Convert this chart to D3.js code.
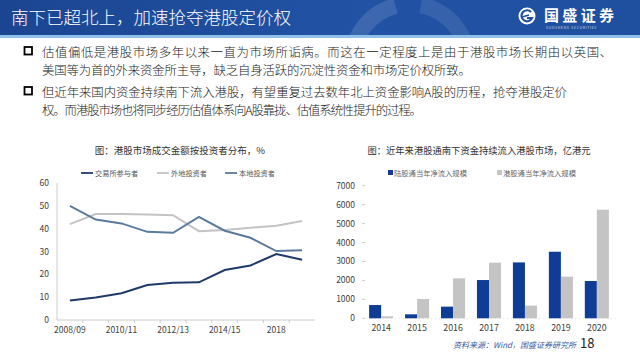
<!DOCTYPE html>
<html><head><meta charset="utf-8">
<script src="https://cdn.jsdelivr.net/npm/d3@7"></script>
<style>
html,body{margin:0;padding:0;background:#fff;}
svg{display:block;font-family:"Noto Sans CJK SC","Noto Sans",sans-serif;}
</style></head>
<body>
<svg id="c" width="640" height="360"></svg>
<script>
// ---- data ----
const periods = ["2008/09","2009/10","2010/11","2011/12","2012/13","2013/14","2014/15","2015/16","2018","2019"];
const exchangeParticipants = [8.5, 9.9, 11.7, 15.3, 16.3, 16.5, 21.9, 23.9, 28.9, 26.4];
const overseasInvestors    = [42.0, 46.4, 46.4, 46.2, 45.9, 38.9, 39.4, 40.4, 41.3, 43.4];
const localInvestors       = [50.0, 44.0, 42.3, 38.6, 38.2, 45.2, 39.1, 36.0, 30.2, 30.5];
const lineSeriesNames = ["交易所参与者", "外地投资者", "本地投资者"];
const leftTicks = [0, 10, 20, 30, 40, 50, 60];

const years = ["2014","2015","2016","2017","2018","2019","2020"];
const northbound = [700, 210, 615, 2020, 2950, 3515, 1970];
const southbound = [105, 1020, 2110, 2935, 670, 2200, 5730];
const barSeriesNames = ["陆股通当年净流入规模", "港股通当年净流入规模"];
const rightTicks = [0, 1000, 2000, 3000, 4000, 5000, 6000, 7000];

const svg = d3.select("#c");

// ---- header ----
const defs = svg.append("defs");
const g1 = defs.append("linearGradient").attr("id","hdr").attr("x1","0").attr("x2","1").attr("y1","0").attr("y2","0");
g1.append("stop").attr("offset","0").attr("stop-color","#1b4591");
g1.append("stop").attr("offset","0.55").attr("stop-color","#2152a4");
g1.append("stop").attr("offset","1").attr("stop-color","#1f4f9f");
defs.append("clipPath").attr("id","hclip").append("rect").attr("x",0).attr("y",0).attr("width",640).attr("height",36);
svg.append("rect").attr("x",0).attr("y",0).attr("width",640).attr("height",36).attr("fill","url(#hdr)");
const hg = svg.append("g").attr("clip-path","url(#hclip)");
hg.append("path").attr("d", d3.arc()({innerRadius:50, outerRadius:66, startAngle:-Math.PI*0.92, endAngle:-Math.PI*0.08}))
  .attr("transform","translate(410,62)").attr("fill","rgba(255,255,255,0.13)");
hg.append("path").attr("d", d3.arc()({innerRadius:50, outerRadius:66, startAngle:Math.PI*0.06, endAngle:Math.PI*0.5}))
  .attr("transform","translate(410,62)").attr("fill","rgba(255,255,255,0.10)");
svg.append("rect").attr("x",0).attr("y",35).attr("width",640).attr("height",3).attr("fill","#8fc0e8");

svg.append("text").attr("x",11).attr("y",24).attr("fill","#fff").attr("font-size",17.5).attr("font-weight",300)
  .text("南下已超北上，加速抢夺港股定价权");

// logo
const lg = svg.append("g").attr("transform","translate(527,16)");
lg.append("circle").attr("r",8.5).attr("fill","#fff");
lg.append("path").attr("d","M4,-4 A5.5,5.5 0 1 0 5,2 L0,2").attr("fill","none").attr("stroke","#1f4f9f").attr("stroke-width",2.2);
lg.append("path").attr("d","M-5,1 L2,-1").attr("stroke","#1f4f9f").attr("stroke-width",1.6);
svg.append("text").attr("x",544).attr("y",21).attr("fill","#fff").attr("font-size",15).attr("font-weight","bold")
  .attr("textLength",70).text("国盛证券");
svg.append("text").attr("x",546).attr("y",28.5).attr("fill","#fff").attr("font-size",3.2).attr("letter-spacing",0.8)
  .attr("opacity",0.8).text("GUOSHENG SECURITIES");

// ---- bullets ----
const bullets = [
  {y:56.5, box:true, text:"估值偏低是港股市场多年以来一直为市场所诟病。而这在一定程度上是由于港股市场长期由以英国、", len:570},
  {y:75, box:false, text:"美国等为首的外来资金所主导，缺乏自身活跃的沉淀性资金和市场定价权所致。", len:429},
  {y:96.5, box:true, text:"但近年来国内资金持续南下流入港股，有望重复过去数年北上资金影响A股的历程，抢夺港股定价", len:525},
  {y:114.5, box:false, text:"权。而港股市场也将同步经历估值体系向A股靠拢、估值系统性提升的过程。", len:380}
];
bullets.forEach(b => {
  if (b.box) svg.append("rect").attr("x",24.5).attr("y",b.y-9.5).attr("width",7.5).attr("height",7.5)
    .attr("fill","none").attr("stroke","#000").attr("stroke-width",1.8);
  svg.append("text").attr("x",42).attr("y",b.y).attr("font-size",12.4).attr("fill","#222").attr("font-weight",300)
    .attr("textLength",b.len).attr("lengthAdjust","spacing").text(b.text);
});

// ---- left chart ----
svg.append("text").attr("x",180).attr("y",154).attr("text-anchor","middle").attr("font-size",9.5).attr("fill","#333")
  .text("图：港股市场成交金额按投资者分布，%");
const lineColors = ["#1f3a68", "#c3c3c3", "#5c7a9c"];
const legX = [81, 157, 225];
lineSeriesNames.forEach((n,i) => {
  svg.append("line").attr("x1",legX[i]).attr("x2",legX[i]+12).attr("y1",173).attr("y2",173)
    .attr("stroke",lineColors[i]).attr("stroke-width",1.8);
  svg.append("text").attr("x",legX[i]+14).attr("y",175.5).attr("font-size",7.2).attr("fill","#555").text(n);
});
const xL = d3.scalePoint().domain(periods).range([57,315]).padding(0.5);
const yL = d3.scaleLinear().domain([0,60]).range([320,183]);
const gl = svg.append("g");
gl.append("line").attr("x1",57).attr("x2",57).attr("y1",183).attr("y2",320).attr("stroke","#bfbfbf").attr("stroke-width",0.8);
gl.append("line").attr("x1",57).attr("x2",315).attr("y1",320).attr("y2",320).attr("stroke","#bfbfbf").attr("stroke-width",0.8);
const stepL = xL.step();
periods.forEach((p,i) => {
  const bx = xL(p) + stepL/2;
  if (i < periods.length - 1)
    gl.append("line").attr("x1",bx).attr("x2",bx).attr("y1",320).attr("y2",323).attr("stroke","#bfbfbf").attr("stroke-width",0.8);
});
leftTicks.forEach(t => {
  gl.append("text").attr("x",49).attr("y",yL(t)+3).attr("text-anchor","end").attr("font-size",8.5).attr("fill","#404040").text(t);
});
periods.forEach((p,i) => {
  if (i % 2 === 0)
    gl.append("text").attr("x",xL(p)).attr("y",333).attr("text-anchor","middle").attr("font-size",8.5).attr("fill","#404040").text(p);
});
const lineGen = d3.line().x((d,i)=>xL(periods[i])).y(d=>yL(d));
[exchangeParticipants, overseasInvestors, localInvestors].forEach((s,i) => {
  gl.append("path").attr("d",lineGen(s)).attr("fill","none").attr("stroke",lineColors[i]).attr("stroke-width",2);
});

// ---- right chart ----
svg.append("text").attr("x",479).attr("y",154).attr("text-anchor","middle").attr("font-size",9.3).attr("fill","#333")
  .text("图：近年来港股通南下资金持续流入港股市场，亿港元");
const barColors = ["#0f3d96", "#c4c4c4"];
const legBX = [388, 497];
barSeriesNames.forEach((n,i) => {
  svg.append("rect").attr("x",legBX[i]).attr("y",170).attr("width",5).attr("height",5).attr("fill",barColors[i]);
  svg.append("text").attr("x",legBX[i]+6).attr("y",175.5).attr("font-size",7.3).attr("fill","#666").text(n);
});
const xR = d3.scaleBand().domain(years).range([363,615]).paddingInner(0.33).paddingOuter(0.17);
const xSub = d3.scaleBand().domain([0,1]).range([0,xR.bandwidth()]);
const yR = d3.scaleLinear().domain([0,7000]).range([318.3,185.7]);
const gr = svg.append("g");
rightTicks.forEach(t => {
  gr.append("text").attr("x",355).attr("y",yR(t)+3).attr("text-anchor","end").attr("font-size",8.5).attr("fill","#404040").text(t);
  gr.append("line").attr("x1",362).attr("x2",365).attr("y1",yR(t)).attr("y2",yR(t)).attr("stroke","#bfbfbf").attr("stroke-width",0.8);
});
gr.append("line").attr("x1",363).attr("x2",617).attr("y1",318.5).attr("y2",318.5).attr("stroke","#e0e0e0").attr("stroke-width",0.8)
  .attr("stroke-dasharray","1,3");
[northbound, southbound].forEach((s,k) => {
  gr.selectAll(null).data(s).enter().append("rect")
    .attr("x",(d,i)=>xR(years[i])+xSub(k))
    .attr("width",xSub.bandwidth())
    .attr("y",d=>yR(d))
    .attr("height",d=>yR(0)-yR(d))
    .attr("fill",barColors[k]);
});
years.forEach(y => {
  gr.append("text").attr("x",xR(y)+xR.bandwidth()/2).attr("y",331).attr("text-anchor","middle").attr("font-size",8.8).attr("fill","#404040").text(y);
});

// ---- footer ----
svg.append("text").attr("x",453).attr("y",348).attr("font-size",8).attr("font-style","italic").attr("fill","#3a5a9a")
  .text("资料来源：Wind，国盛证券研究所");
svg.append("text").attr("x",580).attr("y",348).attr("font-size",13).attr("fill","#222").text("18");
</script>
</body></html>
